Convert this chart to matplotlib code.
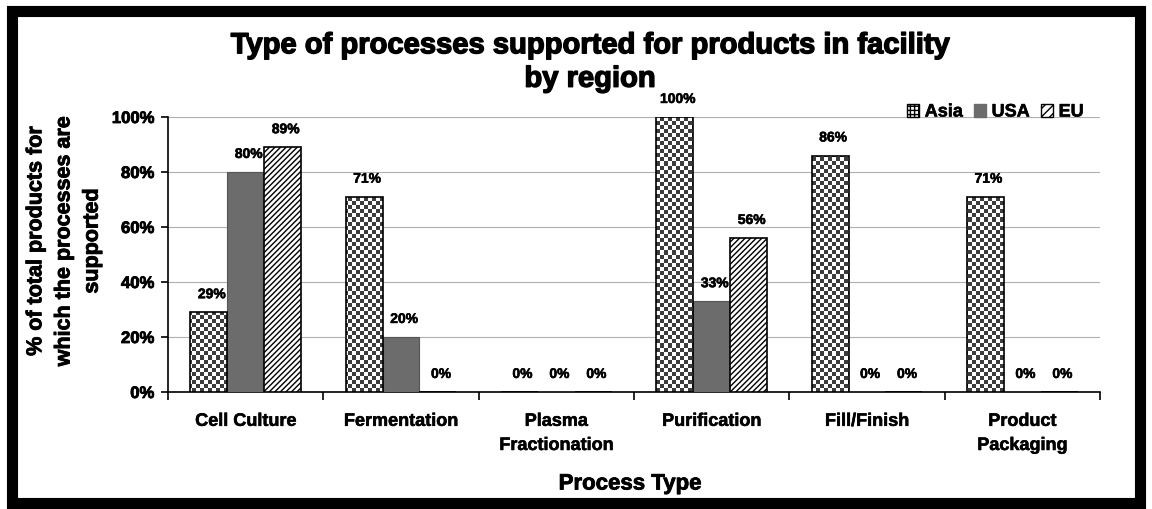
import numpy as np
import matplotlib
matplotlib.use("Agg")
import matplotlib.pyplot as plt
import matplotlib.patches as patches
import matplotlib.patheffects as pe
from matplotlib.colors import ListedColormap
from matplotlib.ticker import FuncFormatter, FixedLocator

# process types on the x axis
categories = ["Cell Culture", "Fermentation", "Plasma\nFractionation",
              "Purification", "Fill/Finish", "Product\nPackaging"]
regions = ["Asia", "USA", "EU"]

# percent of products supported, per region
asia = [29, 71, 0, 100, 86, 71]
usa = [80, 20, 0, 33, 0, 0]
eu = [89, 0, 0, 56, 0, 0]

FONT = ["Liberation Sans", "DejaVu Sans"]
heavy = [pe.withStroke(linewidth=0.6, foreground='black')]
light = [pe.withStroke(linewidth=0.4, foreground='black')]

fig = plt.figure(figsize=(11.52, 5.10), dpi=100)
ax = fig.add_axes([168 / 1152, 1 - 393 / 510, (1100 - 168) / 1152, (393 - 118) / 510])

x = np.arange(len(categories))
w = 0.238
usa_col = '#6c6c6c'

asia_bars = ax.bar(x - w, asia, w, facecolor='none', edgecolor='black', linewidth=1.2, zorder=4)
usa_bars = ax.bar(x, usa, w, facecolor=usa_col, edgecolor='#555555', linewidth=0.8, zorder=3)
eu_bars = ax.bar(x + w, eu, w, facecolor='white', edgecolor='black', hatch='//////', linewidth=1.2, zorder=3)

# checkerboard fill for the Asia bars, clipped to each bar
cell = 4  # pixels
nx = int(ax.bbox.width / cell)
ny = int(ax.bbox.height / cell)
checker = (np.add.outer(np.arange(ny), np.arange(nx)) % 2).astype(float)
checker_cmap = ListedColormap(['#3c3c3c', 'white'])
for b in asia_bars:
    im = ax.imshow(checker, cmap=checker_cmap, vmin=0, vmax=1, extent=(-0.5, len(categories) - 0.5, 0, 100),
                   aspect='auto', interpolation='nearest', zorder=3, origin='lower')
    im.set_clip_path(b)
ax.set_aspect('auto')
ax.set_xlim(-0.5, len(categories) - 0.5)
ax.set_ylim(0, 100)

# value labels above every bar
for bars, vals in [(asia_bars, asia), (usa_bars, usa), (eu_bars, eu)]:
    for b, v in zip(bars, vals):
        ax.annotate(f"{v}%", (b.get_x() + b.get_width() / 2 + 0.02, v), xytext=(0, 13),
                    textcoords='offset points', ha='center', va='center',
                    fontsize=10, fontweight='bold', family=FONT, annotation_clip=False, zorder=5,
                    path_effects=light)

# axes styling
ax.yaxis.set_major_locator(FixedLocator([0, 20, 40, 60, 80, 100]))
ax.yaxis.set_major_formatter(FuncFormatter(lambda v, p: f"{int(v)}%"))
ax.grid(axis='y', color='#b0b0b0', linewidth=0.8, zorder=0)
ax.set_axisbelow(True)
for s in ['top', 'right']:
    ax.spines[s].set_visible(False)
ax.spines['left'].set_linewidth(1.2)
ax.spines['bottom'].set_linewidth(1.2)

ax.set_xticks(np.arange(len(categories) + 1) - 0.5)
ax.set_xticklabels([])
ax.set_xticks(x, minor=True)
ax.set_xticklabels(categories, minor=True, fontsize=13, fontweight='bold', family=FONT, linespacing=1.55)
ax.tick_params(axis='x', which='major', direction='out', length=6, width=1.2)
ax.tick_params(axis='x', which='minor', length=0, pad=15)
ax.tick_params(axis='y', direction='out', length=5, width=1.2, pad=5)
for t in ax.get_yticklabels():
    t.set_fontsize(12)
    t.set_fontweight('bold')
    t.set_family(FONT)
    t.set_path_effects(heavy)
for t in ax.get_xticklabels(minor=True):
    t.set_path_effects(light)

fig.text(630 / 1152, 1 - 485 / 510, "Process Type", ha='center', va='center', fontsize=16,
         fontweight='bold', family=FONT, path_effects=heavy)
fig.text(64 / 1152, 1 - 242 / 510, "% of total products for\nwhich the processes are\nsupported",
         rotation=90, ha='center', va='center', fontsize=15.5, fontweight='bold', family=FONT,
         linespacing=1.45, path_effects=heavy)

fig.text(590 / 1152, 1 - 63 / 510, "Type of processes supported for products in facility\nby region",
         ha='center', va='center', fontsize=21, fontweight='bold', family=FONT, linespacing=1.25,
         path_effects=[pe.withStroke(linewidth=1.0, foreground='black')])

# legend
handles = [patches.Patch(facecolor='white', edgecolor='black', hatch='++++', label='Asia'),
           patches.Patch(facecolor=usa_col, edgecolor=usa_col, label='USA'),
           patches.Patch(facecolor='white', edgecolor='black', hatch='////', label='EU')]
leg = fig.legend(handles=handles, loc='center right', bbox_to_anchor=(1100 / 1152, 1 - 113 / 510),
                 ncol=3, frameon=False, handlelength=0.7, handleheight=0.7, handletextpad=0.3,
                 columnspacing=0.6, prop={'family': FONT, 'weight': 'bold', 'size': 13})
for t in leg.get_texts():
    t.set_path_effects(light)

# heavy frame round the whole chart
fig.patches.append(patches.Rectangle((12 / 1152, 6 / 510), (1140 - 12) / 1152, (498 - 6) / 510,
                                     transform=fig.transFigure, fill=False, edgecolor='black',
                                     linewidth=8, zorder=10))

fig.savefig("out.png", dpi=100)
